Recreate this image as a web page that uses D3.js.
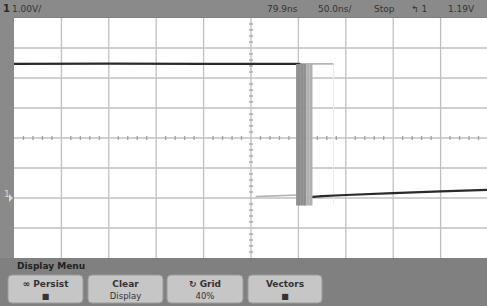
<!DOCTYPE html>
<html>
<head>
<meta charset="utf-8">
<script src="https://cdn.jsdelivr.net/npm/d3@7"></script>
<style>
  body { margin: 0; background: #808080; }
  svg { display: block; font-family: "DejaVu Sans", sans-serif; }
</style>
</head>
<body>
<div id="scope"></div>
<script>
// time in ns (50 ns/div), voltage in V (1 V/div), ground at 0
const timeTicks = d3.range(-250, 251, 50);
const voltTicks = d3.range(-2, 6.01, 1);

// main (latest) acquisition, before and after the edge
const mainHighT = [-250, -150, -50, 0, 50, 52];
const mainHighV = [4.47, 4.48, 4.47, 4.47, 4.47, 4.46];
const mainLowT = [62, 75, 100, 150, 200, 250];
const mainLowV = [0.03, 0.06, 0.1, 0.16, 0.22, 0.27];

// persisted falling edges
const burstDarkT = [48.5, 50, 51.5, 53, 54.5, 56, 57];
const burstLightT = [58, 59.5, 61, 62.5, 64];
const burstTop = 4.47;
const burstBottom = -0.25;

// faint older acquisition
const ghostHighT = [50, 87];
const ghostHighV = [4.47, 4.47];
const ghostLowT = [5, 25, 50];
const ghostLowV = [0.05, 0.07, 0.1];

const statusLeft = ["1", "1.00V/"];
const statusRight = ["79.9ns", "50.0ns/", "Stop", "\u21B0 1", "1.19V"];
const statusRightX = [267, 318, 374, 411, 448];

const menuTitle = "Display Menu";
const buttonLines = [["\u221E Persist", "\u25A0"], ["Clear", "Display"], ["\u21BB  Grid", "40%"], ["Vectors", "\u25A0"]];

const width = 487, height = 306;
const svg = d3.select("#scope").append("svg")
    .attr("width", width)
    .attr("height", height);

svg.append("rect").attr("width", width).attr("height", height).attr("fill", "#808080");

const x = d3.scaleLinear().domain([-250, 250]).range([14, 488]);
const y = d3.scaleLinear().domain([-2, 6]).range([258, 18]);

// screen
svg.append("rect")
    .attr("x", x(-250)).attr("y", y(6))
    .attr("width", x(250) - x(-250)).attr("height", y(-2) - y(6))
    .attr("fill", "#ffffff");

// top bar
svg.append("rect").attr("x", 0).attr("y", 0).attr("width", width).attr("height", 17).attr("fill", "#8a8a8a");
svg.append("text").attr("x", 3).attr("y", 12).attr("font-size", 10).attr("font-weight", "bold").attr("fill", "#2a2a2a").text(statusLeft[0]);
svg.append("text").attr("x", 12).attr("y", 12).attr("font-size", 9).attr("fill", "#333").text(statusLeft[1]);
svg.selectAll(".status").data(statusRight).enter().append("text")
    .attr("class", "status")
    .attr("x", (d, i) => statusRightX[i]).attr("y", 12)
    .attr("font-size", 9).attr("fill", "#333")
    .text(d => d);

// left strip
svg.append("rect").attr("x", 0).attr("y", 17).attr("width", 14).attr("height", 241).attr("fill", "#8a8a8a");
svg.append("text").attr("x", 4).attr("y", y(0) - 1).attr("font-size", 9).attr("fill", "#d8d8d8").text("1");
svg.append("path")
    .attr("d", `M9,${y(0) - 4} L13,${y(0)} L9,${y(0) + 4}Z`)
    .attr("fill", "#d8d8d8");

// grid
const grid = svg.append("g").attr("stroke", "#c0c0c0").attr("stroke-width", 1.3);
grid.selectAll(".vg").data(timeTicks.slice(1, -1)).enter().append("line")
    .attr("x1", d => x(d)).attr("x2", d => x(d))
    .attr("y1", y(6)).attr("y2", y(-2));
grid.selectAll(".hg").data(voltTicks.slice(1, -1)).enter().append("line")
    .attr("x1", x(-250)).attr("x2", x(250))
    .attr("y1", d => y(d)).attr("y2", d => y(d));

// minor ticks on center lines
const minorT = d3.range(-250, 251, 10).filter(d => d % 50 !== 0);
const minorV = d3.range(-2, 6.01, 0.2).filter(d => Math.abs(d - Math.round(d)) > 0.01);
grid.selectAll(".mt").data(minorT).enter().append("line")
    .attr("stroke", "#a0a0a0")
    .attr("x1", d => x(d)).attr("x2", d => x(d))
    .attr("y1", y(2) - 2).attr("y2", y(2) + 2);
grid.selectAll(".mv").data(minorV).enter().append("line")
    .attr("stroke", "#a0a0a0")
    .attr("x1", x(0) - 2).attr("x2", x(0) + 2)
    .attr("y1", d => y(d)).attr("y2", d => y(d));

const line = d3.line().x(d => x(d[0])).y(d => y(d[1]));

// faint older trace
svg.append("path").datum(d3.zip(ghostHighT, ghostHighV)).attr("d", line)
    .attr("fill", "none").attr("stroke", "#b4b4b4").attr("stroke-width", 1.6);
svg.append("path").datum(d3.zip(ghostLowT, ghostLowV)).attr("d", line)
    .attr("fill", "none").attr("stroke", "#b4b4b4").attr("stroke-width", 1.6);
svg.append("line")
    .attr("x1", x(ghostHighT[1])).attr("x2", x(ghostHighT[1]))
    .attr("y1", y(ghostHighV[1])).attr("y2", y(burstBottom))
    .attr("stroke", "#ececec").attr("stroke-width", 1);

// main trace, flat parts
svg.append("path").datum(d3.zip(mainHighT, mainHighV)).attr("d", line)
    .attr("fill", "none").attr("stroke", "#2a2a2a").attr("stroke-width", 2.2);
svg.append("path").datum(d3.zip(mainLowT, mainLowV)).attr("d", line)
    .attr("fill", "none").attr("stroke", "#2a2a2a").attr("stroke-width", 2.2);

// persisted edges
svg.selectAll(".bl").data(burstLightT).enter().append("line")
    .attr("x1", d => x(d)).attr("x2", d => x(d))
    .attr("y1", y(burstTop)).attr("y2", y(burstBottom))
    .attr("stroke", "#b0b0b0").attr("stroke-width", 1.6);
svg.selectAll(".bd").data(burstDarkT).enter().append("line")
    .attr("x1", d => x(d)).attr("x2", d => x(d))
    .attr("y1", y(burstTop)).attr("y2", y(burstBottom))
    .attr("stroke", "#8e8e8e").attr("stroke-width", 1.8);

// menu
svg.append("text").attr("x", 17).attr("y", 269).attr("font-size", 9).attr("font-weight", "bold").attr("fill", "#222").text(menuTitle);

const buttonX = [8, 88, 167, 248];
const buttonW = [75, 75, 76, 74];
const btn = svg.selectAll(".btn").data(buttonLines).enter().append("g")
    .attr("transform", (d, i) => `translate(${buttonX[i]},275)`);
btn.append("rect")
    .attr("width", (d, i) => buttonW[i]).attr("height", 28)
    .attr("rx", 4)
    .attr("fill", "#c6c6c6").attr("stroke", "#9a9a9a");
btn.append("text")
    .attr("x", (d, i) => buttonW[i] / 2).attr("y", 12)
    .attr("text-anchor", "middle").attr("font-size", 9).attr("font-weight", "bold").attr("fill", "#333")
    .text(d => d[0]);
btn.append("text")
    .attr("x", (d, i) => buttonW[i] / 2).attr("y", 24)
    .attr("text-anchor", "middle").attr("font-size", d => d[1] === "\u25A0" ? 8 : 8.5).attr("fill", "#333")
    .text(d => d[1]);
</script>
</body>
</html>
